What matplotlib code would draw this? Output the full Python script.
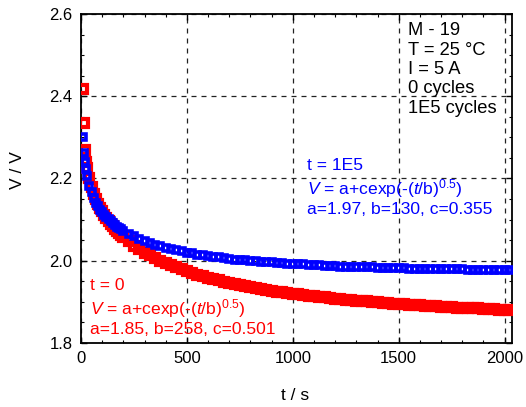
import matplotlib
matplotlib.use("Agg")
import matplotlib.pyplot as plt

plt.rcParams["font.family"] = ["Liberation Sans", "DejaVu Sans"]
plt.rcParams["mathtext.fontset"] = "custom"
plt.rcParams["mathtext.rm"] = "Liberation Sans"
plt.rcParams["mathtext.it"] = "Liberation Sans:italic"

# ── Discharge transients (time in s, voltage in V) ─────────────────────────
time_s = [8, 15, 20, 25, 30, 40, 50, 60, 70, 80, 90, 100, 110, 120, 130, 140,
          150, 160, 170, 180, 190, 200, 225, 250, 275, 300, 325, 350, 375,
          400, 425, 450, 475, 500, 525, 550, 575, 600, 625, 650, 675, 700,
          725, 750, 775, 800, 825, 850, 875, 900, 925, 950, 975, 1000, 1025,
          1050, 1075, 1100, 1125, 1150, 1175, 1200, 1225, 1250, 1275, 1300,
          1325, 1350, 1375, 1400, 1425, 1450, 1475, 1500, 1525, 1550, 1575,
          1600, 1625, 1650, 1675, 1700, 1725, 1750, 1775, 1800, 1825, 1850,
          1875, 1900, 1925, 1950, 1975, 2000, 2020]

v_0_cycles = [2.418, 2.334, 2.270, 2.240, 2.225, 2.200, 2.180, 2.162, 2.150,
              2.139, 2.129, 2.120, 2.111, 2.103, 2.096, 2.090, 2.084, 2.078,
              2.072, 2.067, 2.062, 2.058, 2.047, 2.037, 2.028, 2.020, 2.013,
              2.006, 2.000, 1.994, 1.989, 1.984, 1.979, 1.975, 1.970, 1.966,
              1.963, 1.959, 1.956, 1.952, 1.949, 1.947, 1.944, 1.941, 1.939,
              1.936, 1.934, 1.932, 1.929, 1.927, 1.925, 1.924, 1.922, 1.920,
              1.918, 1.917, 1.915, 1.914, 1.912, 1.911, 1.909, 1.908, 1.907,
              1.905, 1.904, 1.903, 1.902, 1.901, 1.900, 1.899, 1.898, 1.897,
              1.896, 1.895, 1.894, 1.893, 1.892, 1.892, 1.891, 1.890, 1.889,
              1.888, 1.888, 1.887, 1.886, 1.886, 1.885, 1.884, 1.884, 1.883,
              1.883, 1.882, 1.881, 1.881, 1.880]

v_1e5_cycles = [2.300, 2.262, 2.240, 2.222, 2.205, 2.182, 2.166, 2.152, 2.141,
                2.132, 2.124, 2.118, 2.111, 2.106, 2.101, 2.096, 2.091, 2.087,
                2.083, 2.079, 2.076, 2.073, 2.065, 2.059, 2.053, 2.048, 2.043,
                2.039, 2.035, 2.031, 2.028, 2.025, 2.023, 2.020, 2.018, 2.015,
                2.013, 2.011, 2.010, 2.008, 2.006, 2.005, 2.003, 2.002, 2.001,
                2.000, 1.999, 1.998, 1.997, 1.996, 1.995, 1.994, 1.993, 1.992,
                1.991, 1.991, 1.990, 1.989, 1.989, 1.988, 1.988, 1.987, 1.986,
                1.986, 1.985, 1.985, 1.985, 1.984, 1.984, 1.983, 1.983, 1.983,
                1.982, 1.982, 1.982, 1.981, 1.981, 1.981, 1.980, 1.980, 1.980,
                1.980, 1.979, 1.979, 1.979, 1.979, 1.978, 1.978, 1.978, 1.978,
                1.978, 1.977, 1.977, 1.977, 1.977]

legend_lines = ["M - 19", "T = 25 °C", "I = 5 A", "0 cycles", "1E5 cycles"]
fit_eq = r"$\it{V}$ = a+cexp(-($\it{t}$/b)$^{0.5}$)"
fit_0 = ["t = 0", fit_eq, "a=1.85, b=258, c=0.501"]
fit_1e5 = ["t = 1E5", fit_eq, "a=1.97, b=130, c=0.355"]

RED = "#ff0000"
BLUE = "#0000ff"

fig = plt.figure(figsize=(5.26, 4.07), dpi=100)
ax = fig.add_axes([81 / 526, 64 / 407, 431 / 526, 329 / 407])

ax.plot(time_s, v_0_cycles, ls="none", marker="s", ms=6, mfc="none",
        mec=RED, mew=3, zorder=3)
ax.plot(time_s, v_1e5_cycles, ls="none", marker="s", ms=5, mfc="none",
        mec=BLUE, mew=2.6, zorder=4)

ax.set_xlim(0, 2035)
ax.set_ylim(1.8, 2.6)
ax.set_xticks([0, 500, 1000, 1500, 2000])
ax.set_yticks([1.8, 2.0, 2.2, 2.4, 2.6])
ax.set_xticks(range(0, 2001, 100), minor=True)
ax.set_yticks([1.8 + 0.05 * i for i in range(17)], minor=True)
ax.set_yticklabels(["1.8", "2.0", "2.2", "2.4", "2.6"])

ax.tick_params(which="both", direction="in", top=True, right=True,
               labelsize=12, pad=6)
ax.tick_params(which="major", length=4, width=1)
ax.tick_params(which="minor", length=2.5, width=0.8)
ax.grid(True, which="major", ls=(0, (4, 4)), color="#222222", lw=0.9)
ax.set_axisbelow(True)
for side in ax.spines.values():
    side.set_linewidth(1.3)

# sample description, top right
for i, line in enumerate(legend_lines):
    ax.text(0.759, 0.936 - 0.0592 * i, line, transform=ax.transAxes,
            fontsize=13.2, va="baseline", ha="left")

# fitted parameters for each curve
for line, y in zip(fit_1e5, [0.526, 0.451, 0.392]):
    ax.text(0.524, y, line, transform=ax.transAxes, color=BLUE,
            fontsize=12.6, va="baseline", ha="left")
for line, y in zip(fit_0, [0.161, 0.086, 0.0275]):
    ax.text(0.021, y, line, transform=ax.transAxes, color=RED,
            fontsize=12.6, va="baseline", ha="left")

fig.text(18 / 526, 1 - 170 / 407, "V / V", rotation=90, fontsize=12.5,
         ha="center", va="center")
fig.text(295 / 526, 1 - 396 / 407, "t / s", fontsize=12.5,
         ha="center", va="center")

fig.savefig("out.png", dpi=100)
